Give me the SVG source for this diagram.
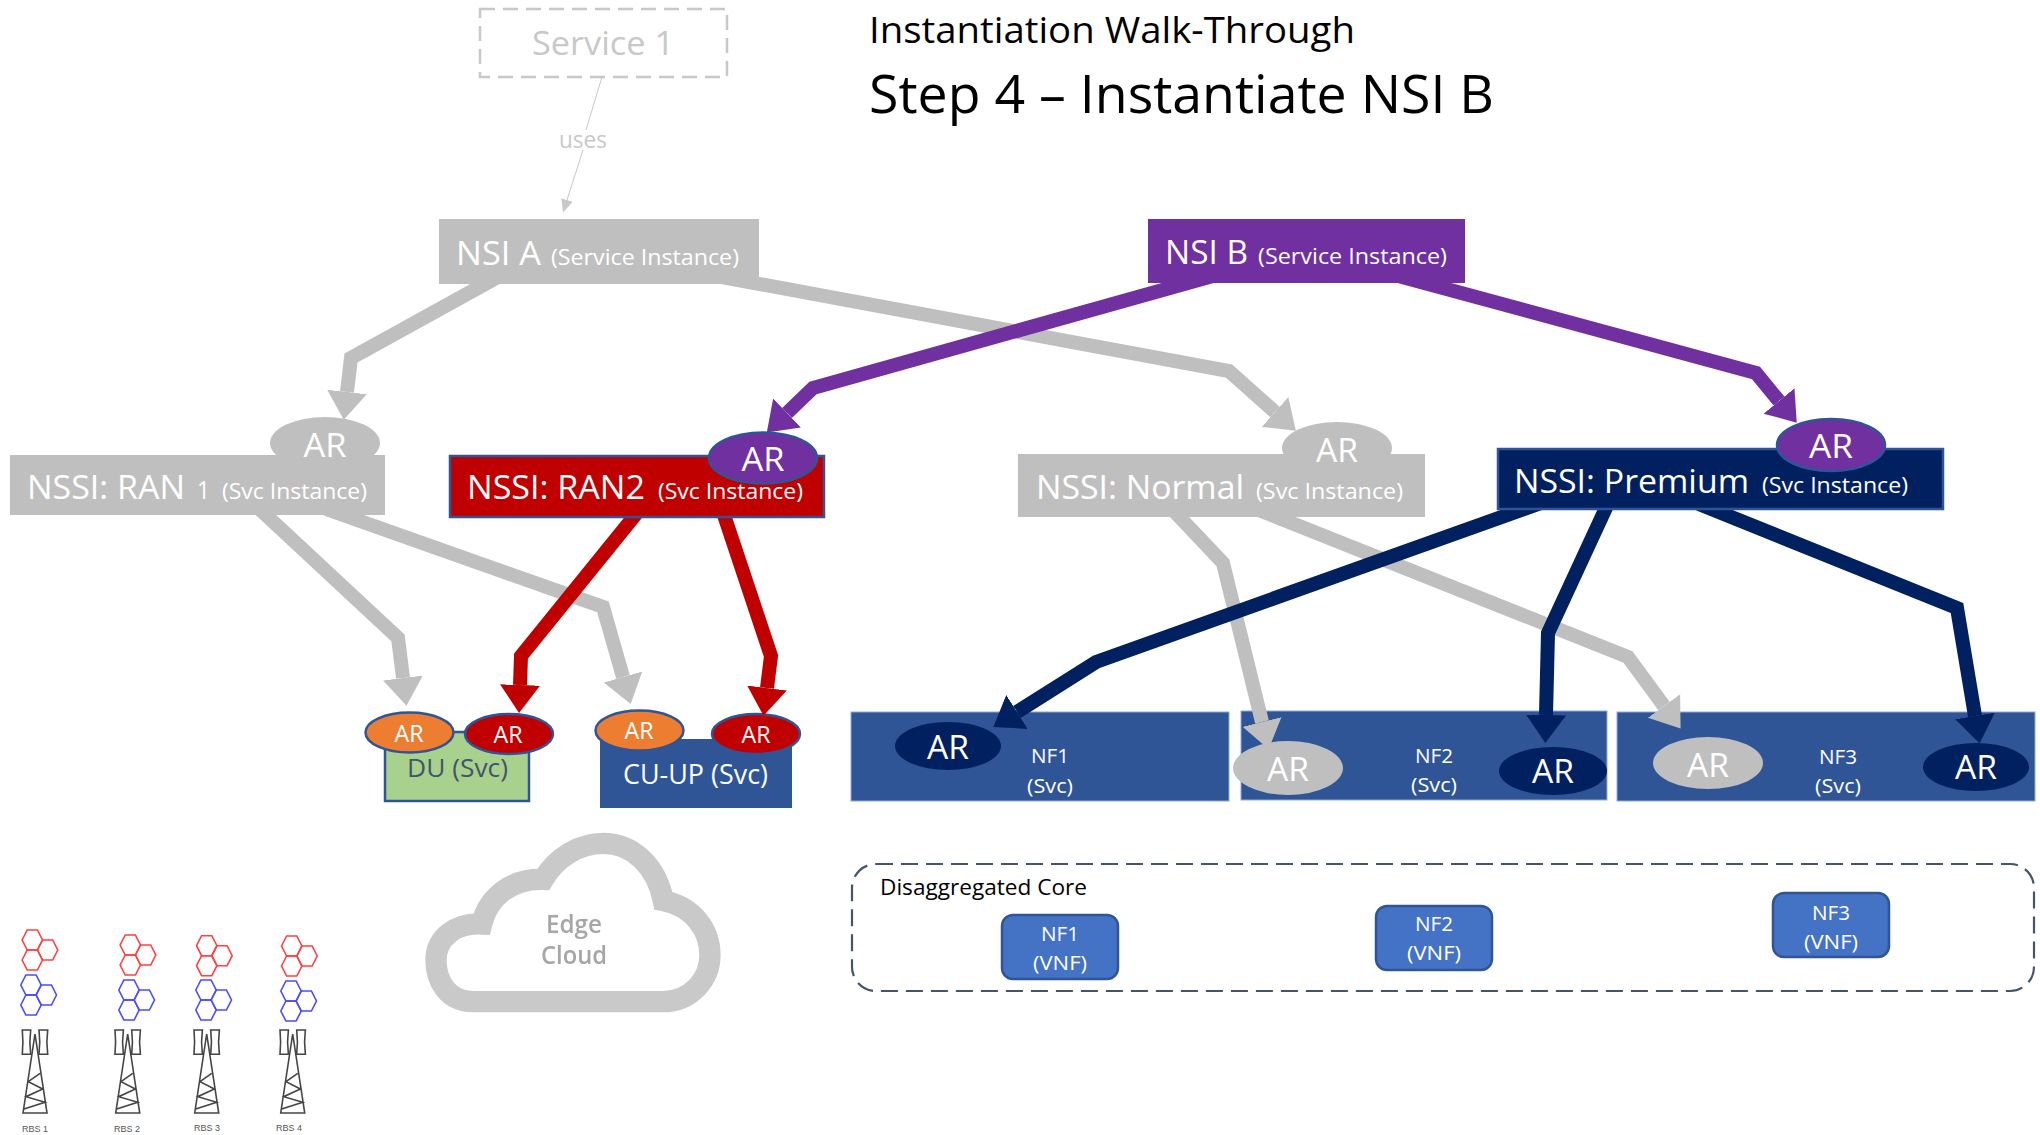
<svg xmlns="http://www.w3.org/2000/svg" width="2040" height="1135" viewBox="0 0 2040 1135">
<style>
text{font-family:"Open Sans","Noto Sans","Liberation Sans",sans-serif}
.a33{font-size:33px;fill:#fff;text-anchor:middle}
.a24{font-size:24px;fill:#fff;text-anchor:middle}
.t33{font-size:33px;fill:#fff}
.t22{font-size:22px;fill:#fff}
.c20{font-size:20px;fill:#fff;text-anchor:middle}
.con{fill:none;stroke-linejoin:miter}
.gr{stroke:#bfbfbf;stroke-width:14;marker-end:url(#mg)}
.rd{stroke:#c00000;stroke-width:14;marker-end:url(#mr)}
.pu{stroke:#7030a0;stroke-width:14;marker-end:url(#mp)}
.na{stroke:#002060;stroke-width:14;marker-end:url(#mn)}
.b{stroke:#2f5597;stroke-width:2.5}
.vnf{fill:#4472c4;stroke:#2f5597;stroke-width:2.5}
.nf{fill:#2f5597;stroke:#8faadc;stroke-width:1}
.hex{fill:none;stroke-width:1.6}
.tw{fill:none;stroke:#444;stroke-width:1.6}
.rbs{font-family:"Liberation Sans",sans-serif;font-size:9px;fill:#555;text-anchor:middle}
</style>
<defs>
<marker id="mg" markerUnits="userSpaceOnUse" markerWidth="30" markerHeight="42" viewBox="0 0 30 42" refX="0" refY="21" orient="auto"><path d="M0 1V41L28 21z" fill="#bfbfbf"/></marker>
<marker id="mr" markerUnits="userSpaceOnUse" markerWidth="30" markerHeight="42" viewBox="0 0 30 42" refX="0" refY="21" orient="auto"><path d="M0 1V41L28 21z" fill="#c00000"/></marker>
<marker id="mp" markerUnits="userSpaceOnUse" markerWidth="30" markerHeight="42" viewBox="0 0 30 42" refX="0" refY="21" orient="auto"><path d="M0 1V41L28 21z" fill="#7030a0"/></marker>
<marker id="mn" markerUnits="userSpaceOnUse" markerWidth="30" markerHeight="42" viewBox="0 0 30 42" refX="0" refY="21" orient="auto"><path d="M0 1V41L28 21z" fill="#002060"/></marker>
<marker id="mt" markerUnits="userSpaceOnUse" markerWidth="14" markerHeight="14" viewBox="0 0 14 14" refX="0" refY="7" orient="auto"><path d="M0 1V13L13 7z" fill="#c8c8c8"/></marker>
<filter id="soft" x="-15%" y="-20%" width="130%" height="140%"><feGaussianBlur stdDeviation="0.9"/></filter>
<filter id="soft2" x="-5%" y="-5%" width="110%" height="110%"><feGaussianBlur stdDeviation="0.4"/></filter>
<g id="cells"><path id="hx" d="M-10.2 0L-5.1-10H5.1L10.2 0L5.1 10H-5.1z"/><use href="#hx" x="15.3" y="10"/><use href="#hx" y="20"/></g>
<g id="tower" class="tw" filter="url(#soft2)"><path d="M-12 73L0-6L12 73zM5 33.3L-6.7 41.7L7.7 49L-9 56.7L10 62.3L-11 69"/><path d="M-12.7-10H-4.3Q-6 2-4.3 14.3H-12.7Q-11.5 2-12.7-10zM4-10H12.7Q11 2 12.7 14.3H4Q5.5 2 4-10z"/></g>
</defs>

<g id="titles">
<text x="869" y="43" font-size="36" fill="#000" textLength="486" lengthAdjust="spacingAndGlyphs">Instantiation Walk-Through</text>
<text x="869" y="113" font-size="53" fill="#000" textLength="625" lengthAdjust="spacingAndGlyphs">Step 4 – Instantiate NSI B</text>
</g>

<g id="service1">
<rect x="480" y="9" width="247" height="68" fill="#fff" stroke="#c8c8c8" stroke-width="2.5" stroke-dasharray="15 8"/>
<text x="532" y="55" font-size="33" fill="#c8c8c8" textLength="142" lengthAdjust="spacingAndGlyphs">Service 1</text>
</g>
<g id="uses-label"><text x="559" y="148" font-size="24" fill="#c8c8c8" textLength="48" lengthAdjust="spacingAndGlyphs">uses</text></g>

<g id="du"><rect class="b" x="385" y="732" width="144" height="69" fill="#a9d18e"/>
<text x="407" y="777" font-size="26" fill="#44546a" textLength="101" lengthAdjust="spacingAndGlyphs">DU (Svc)</text>
<ellipse class="b" cx="409.5" cy="732.5" rx="44" ry="20" fill="#ed7d31"/>
<text class="a24" x="409" y="742" textLength="29" lengthAdjust="spacingAndGlyphs">AR</text>
<ellipse class="b" cx="509" cy="734" rx="44" ry="20" fill="#c00000"/>
<text class="a24" x="508" y="743" textLength="29" lengthAdjust="spacingAndGlyphs">AR</text></g>

<g id="cu-up"><rect x="600" y="739" width="192" height="69" fill="#2f5597"/>
<text x="623" y="784" font-size="28" fill="#fff" textLength="145" lengthAdjust="spacingAndGlyphs">CU-UP (Svc)</text>
<ellipse class="b" cx="639.5" cy="730.5" rx="44" ry="20" fill="#ed7d31"/>
<text class="a24" x="639" y="739" textLength="29" lengthAdjust="spacingAndGlyphs">AR</text>
<ellipse class="b" cx="756" cy="734" rx="44" ry="20" fill="#c00000"/>
<text class="a24" x="756" y="743" textLength="29" lengthAdjust="spacingAndGlyphs">AR</text></g>

<g id="nf1-svc"><rect class="nf" x="851" y="712" width="378" height="89"/>
<ellipse cx="948" cy="746" rx="53" ry="24" fill="#002060"/>
<text class="a33" x="948" y="759" textLength="42" lengthAdjust="spacingAndGlyphs">AR</text>
<text class="c20" x="1050" y="763" textLength="38" lengthAdjust="spacingAndGlyphs">NF1</text>
<text class="c20" x="1050" y="793" textLength="46" lengthAdjust="spacingAndGlyphs">(Svc)</text></g>

<g id="nf2-svc"><rect class="nf" x="1241" y="711" width="366" height="89"/>
<ellipse cx="1288" cy="768" rx="55" ry="27" fill="#bfbfbf"/>
<text class="a33" x="1288" y="781" textLength="42" lengthAdjust="spacingAndGlyphs">AR</text>
<ellipse cx="1553" cy="771" rx="54" ry="24" fill="#002060"/>
<text class="a33" x="1553" y="783" textLength="42" lengthAdjust="spacingAndGlyphs">AR</text>
<text class="c20" x="1434" y="763" textLength="38" lengthAdjust="spacingAndGlyphs">NF2</text>
<text class="c20" x="1434" y="792" textLength="46" lengthAdjust="spacingAndGlyphs">(Svc)</text></g>

<g id="nf3-svc"><rect class="nf" x="1617" y="712" width="418" height="89"/>
<ellipse cx="1708" cy="763" rx="55" ry="26" fill="#bfbfbf"/>
<text class="a33" x="1708" y="777" textLength="42" lengthAdjust="spacingAndGlyphs">AR</text>
<ellipse cx="1976" cy="767" rx="53" ry="24" fill="#002060"/>
<text class="a33" x="1976" y="779" textLength="42" lengthAdjust="spacingAndGlyphs">AR</text>
<text class="c20" x="1838" y="764" textLength="38" lengthAdjust="spacingAndGlyphs">NF3</text>
<text class="c20" x="1838" y="793" textLength="46" lengthAdjust="spacingAndGlyphs">(Svc)</text></g>

<g id="connectors">
<path class="con" stroke="#c8c8c8" stroke-width="1" d="M602 77L586 130"/>
<path class="con" stroke="#c8c8c8" stroke-width="1" marker-end="url(#mt)" d="M583 150L567 200"/>
<path class="con gr" d="M505 273L351 358L347 392"/>
<path class="con gr" d="M692 271.5L1229 371L1275 412"/>
<path class="con gr" d="M253 503L398 638L403 678"/>
<path class="con gr" d="M326 509L603 607L623 677"/>
<path class="con gr" d="M1171 508L1223 563L1262 722"/>
<path class="con gr" d="M1259 510L1628 657L1664 706"/>
<path class="con rd" d="M645 503L521 656L520 685"/>
<path class="con rd" d="M720 503L771 656L767 688"/>
<path class="con pu" d="M1227 272L813 388L787 413"/>
<path class="con pu" d="M1380 271L1756 373L1779 401"/>
<path class="con na" d="M1566 494L1096 662L1017 712"/>
<path class="con na" d="M1611 497L1548 633L1546 715"/>
<path class="con na" d="M1699 504L1957 608L1975 716"/>
</g>

<g id="nsi-a"><rect x="439" y="219" width="320" height="65" fill="#bfbfbf"/>
<text class="t33" x="456" y="265" textLength="85" lengthAdjust="spacingAndGlyphs">NSI A</text>
<text class="t22" x="551" y="265" textLength="188" lengthAdjust="spacingAndGlyphs">(Service Instance)</text></g>

<g id="nsi-b"><rect x="1148" y="219" width="317" height="64" fill="#7030a0"/>
<text class="t33" x="1165" y="264" textLength="83" lengthAdjust="spacingAndGlyphs">NSI B</text>
<text class="t22" x="1258" y="264" textLength="189" lengthAdjust="spacingAndGlyphs">(Service Instance)</text></g>

<g id="nssi-ran1"><ellipse cx="325" cy="443" rx="55" ry="26" fill="#bfbfbf"/>
<rect x="10" y="455" width="375" height="60" fill="#bfbfbf"/>
<text class="a33" x="325" y="457" textLength="43" lengthAdjust="spacingAndGlyphs">AR</text>
<text class="t33" x="27" y="499" textLength="158" lengthAdjust="spacingAndGlyphs">NSSI: RAN</text>
<text x="197" y="499" font-size="26" fill="#fff" textLength="13" lengthAdjust="spacingAndGlyphs">1</text>
<text class="t22" x="222" y="499" textLength="145" lengthAdjust="spacingAndGlyphs">(Svc Instance)</text></g>

<g id="nssi-ran2"><rect class="b" x="450" y="456" width="374" height="61" fill="#c00000"/>
<ellipse class="b" cx="763" cy="458" rx="54" ry="25.5" fill="#7030a0"/>
<text class="a33" x="763" y="471" textLength="43" lengthAdjust="spacingAndGlyphs">AR</text>
<text class="t33" x="467" y="499" textLength="178" lengthAdjust="spacingAndGlyphs">NSSI: RAN2</text>
<text class="t22" x="658" y="499" textLength="145" lengthAdjust="spacingAndGlyphs">(Svc Instance)</text></g>

<g id="nssi-normal"><ellipse cx="1337" cy="448" rx="55" ry="26" fill="#bfbfbf"/>
<rect x="1018" y="454" width="407" height="63" fill="#bfbfbf"/>
<text class="a33" x="1337" y="462" textLength="42" lengthAdjust="spacingAndGlyphs">AR</text>
<text class="t33" x="1036" y="499" textLength="208" lengthAdjust="spacingAndGlyphs">NSSI: Normal</text>
<text class="t22" x="1256" y="499" textLength="147" lengthAdjust="spacingAndGlyphs">(Svc Instance)</text></g>

<g id="nssi-premium"><rect class="b" x="1498" y="449" width="445" height="60" fill="#002060"/>
<ellipse class="b" cx="1831" cy="445" rx="54" ry="26" fill="#7030a0"/>
<text class="a33" x="1831" y="458" textLength="44" lengthAdjust="spacingAndGlyphs">AR</text>
<text class="t33" x="1514" y="493" textLength="235" lengthAdjust="spacingAndGlyphs">NSSI: Premium</text>
<text class="t22" x="1762" y="493" textLength="146" lengthAdjust="spacingAndGlyphs">(Svc Instance)</text></g>

<g id="disaggregated-core"><rect x="852" y="864" width="1182" height="127" rx="24" fill="none" stroke="#44546a" stroke-width="2.2" stroke-dasharray="17 8"/>
<text x="880" y="895" font-size="21" fill="#000" textLength="207" lengthAdjust="spacingAndGlyphs">Disaggregated Core</text></g>

<g id="nf1-vnf"><rect class="vnf" x="1002" y="915" width="116" height="64" rx="11"/>
<text class="c20" x="1060" y="941" textLength="38" lengthAdjust="spacingAndGlyphs">NF1</text>
<text class="c20" x="1060" y="970" textLength="54" lengthAdjust="spacingAndGlyphs">(VNF)</text></g>
<g id="nf2-vnf"><rect class="vnf" x="1376" y="906" width="116" height="64" rx="11"/>
<text class="c20" x="1434" y="931" textLength="38" lengthAdjust="spacingAndGlyphs">NF2</text>
<text class="c20" x="1434" y="960" textLength="54" lengthAdjust="spacingAndGlyphs">(VNF)</text></g>
<g id="nf3-vnf"><rect class="vnf" x="1773" y="893" width="116" height="64" rx="11"/>
<text class="c20" x="1831" y="920" textLength="38" lengthAdjust="spacingAndGlyphs">NF3</text>
<text class="c20" x="1831" y="949" textLength="54" lengthAdjust="spacingAndGlyphs">(VNF)</text></g>

<g id="edge-cloud"><path filter="url(#soft)" transform="translate(340 680) scale(.3333)" fill="none" stroke="#c9c9c9" stroke-width="64" d="M400 965C320 965 288 900 288 840C288 775 345 728 425 732C445 650 515 595 610 598C650 530 720 490 790 490C880 490 950 560 970 662C1060 680 1110 750 1110 825C1110 900 1050 965 970 965Z"/>
<g filter="url(#soft2)"><text x="574" y="933" font-size="25" font-weight="600" fill="#a6a6a6" text-anchor="middle" textLength="56" lengthAdjust="spacingAndGlyphs">Edge</text>
<text x="574" y="964" font-size="25" font-weight="600" fill="#a6a6a6" text-anchor="middle" textLength="66" lengthAdjust="spacingAndGlyphs">Cloud</text></g></g>

<g id="rbs-1"><use href="#cells" x="32.3" y="940" class="hex" stroke="#ff4040"/><use href="#cells" x="31" y="985" class="hex" stroke="#4a4aff"/><use href="#tower" x="35" y="1040"/><text class="rbs" x="35" y="1132">RBS 1</text></g>
<g id="rbs-2"><use href="#cells" x="130.3" y="945" class="hex" stroke="#ff4040"/><use href="#cells" x="129" y="990" class="hex" stroke="#4a4aff"/><use href="#tower" x="127.7" y="1040"/><text class="rbs" x="127" y="1132">RBS 2</text></g>
<g id="rbs-3"><use href="#cells" x="206.7" y="945.7" class="hex" stroke="#ff4040"/><use href="#cells" x="206" y="990" class="hex" stroke="#4a4aff"/><use href="#tower" x="206.7" y="1040"/><text class="rbs" x="207" y="1131">RBS 3</text></g>
<g id="rbs-4"><use href="#cells" x="291.7" y="946" class="hex" stroke="#ff4040"/><use href="#cells" x="291" y="991" class="hex" stroke="#4a4aff"/><use href="#tower" x="292.7" y="1040"/><text class="rbs" x="289" y="1131">RBS 4</text></g>
</svg>
